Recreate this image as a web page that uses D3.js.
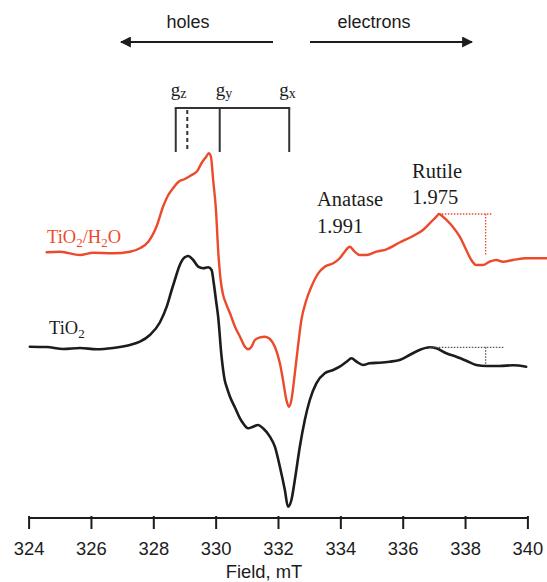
<!DOCTYPE html>
<html>
<head>
<meta charset="utf-8">
<script src="https://cdn.jsdelivr.net/npm/d3@7"></script>
<style>
  html, body { margin: 0; padding: 0; background: #ffffff; }
  svg { display: block; }
</style>
</head>
<body>
<svg id="chart" width="547" height="582"></svg>
<script>
// EPR spectra: field (mT) vs. derivative signal (arbitrary units)
const fieldTicks = [324, 326, 328, 330, 332, 334, 336, 338, 340];

// TiO2/H2O spectrum
const wetField = [324.58, 325.01, 325.65, 326.07, 326.71, 327.25, 327.57, 327.84, 328.11, 328.32,
  328.48, 328.64, 328.80, 329.01, 329.23, 329.41, 329.55, 329.69, 329.78, 329.85,
  329.92, 330.01, 330.08, 330.16, 330.24, 330.33, 330.46, 330.62, 330.78, 330.94,
  331.04, 331.15, 331.26, 331.42, 331.58, 331.74, 331.90, 332.06, 332.16, 332.27,
  332.35, 332.43, 332.54, 332.64, 332.75, 332.91, 333.07, 333.29, 333.50, 333.77,
  333.98, 334.14, 334.30, 334.46, 334.62, 334.84, 335.16, 335.48, 335.90, 336.33,
  336.65, 336.92, 337.08, 337.16, 337.29, 337.56, 337.83, 338.04, 338.20, 338.36,
  338.57, 338.79, 339.00, 339.21, 339.54, 339.96, 340.39, 340.62];
const wetSignal = [265.7, 266.3, 263.0, 265.3, 264.7, 266.3, 269.7, 276.3, 292.0, 312.0,
  323.0, 330.0, 336.0, 339.0, 343.0, 347.0, 355.0, 361.0, 364.7, 361.0,
  338.0, 308.0, 268.0, 238.0, 223.0, 214.7, 204.7, 191.3, 181.3, 171.3,
  168.7, 171.3, 178.0, 180.7, 181.3, 179.0, 171.3, 154.7, 138.0, 118.0,
  111.3, 118.0, 144.7, 171.3, 198.0, 218.0, 231.3, 244.7, 251.3, 254.7,
  259.7, 266.3, 271.3, 266.3, 263.0, 263.0, 266.3, 268.7, 275.5, 282.0,
  288.0, 296.3, 301.3, 304.0, 301.3, 293.0, 281.3, 268.0, 258.0, 253.0,
  253.0, 256.3, 258.0, 256.3, 258.0, 259.7, 259.7, 259.7];

// TiO2 spectrum
const dryField = [324.04, 324.58, 325.11, 325.65, 326.18, 326.71, 327.25, 327.57, 327.89, 328.21,
  328.43, 328.59, 328.69, 328.85, 329.01, 329.12, 329.28, 329.44, 329.60, 329.76,
  329.87, 329.94, 330.01, 330.08, 330.19, 330.29, 330.35, 330.46, 330.62, 330.78,
  330.88, 331.04, 331.20, 331.36, 331.52, 331.74, 331.90, 332.06, 332.22, 332.32,
  332.43, 332.54, 332.70, 332.86, 333.02, 333.23, 333.50, 333.77, 333.98, 334.20,
  334.36, 334.52, 334.73, 334.94, 335.26, 335.58, 335.90, 336.22, 336.54, 336.87,
  337.08, 337.40, 337.72, 338.04, 338.36, 338.68, 339.11, 339.54, 339.96];
const drySignal = [171.3, 171.0, 169.0, 170.0, 168.7, 170.0, 173.0, 176.3, 183.0, 195.5,
  211.3, 228.0, 238.0, 253.0, 260.7, 262.0, 258.0, 251.3, 249.7, 250.7,
  248.0, 234.7, 218.0, 201.3, 161.3, 138.0, 131.3, 121.3, 110.5, 99.7,
  94.7, 89.7, 91.3, 93.0, 89.7, 81.3, 71.3, 51.3, 28.0, 11.3,
  18.0, 38.0, 71.3, 98.0, 118.0, 134.7, 144.7, 148.0, 151.3, 156.3,
  159.7, 156.3, 153.0, 154.7, 155.3, 156.3, 158.0, 163.0, 168.0, 170.7,
  169.7, 164.7, 161.3, 157.3, 153.0, 152.0, 152.0, 152.7, 151.3];

// g-tensor field positions (gz, gy, gx) and the second gz component (dashed)
const gNames = ["z", "y", "x"];
const gFields = [328.72, 330.13, 332.36];
const gzDashedField = 329.09;

// Rutile peak-height markers: [peak field, end field, marker field, top signal, bottom signal]
const wetMarker = [337.16, 338.89, 338.66, 304.0, 263.0];
const dryMarker = [336.87, 339.27, 338.66, 170.7, 153.0];

const RED = "#ec4a2c";
const INK = "#1c1c1c";
const sans = "'Liberation Sans', Arial, sans-serif";
const serif = "'Liberation Serif', 'Times New Roman', serif";

const svg = d3.select("#chart");
svg.append("rect").attr("width", 547).attr("height", 582).attr("fill", "#ffffff");

const x = d3.scaleLinear().domain([324, 340]).range([28.6, 527.4]);
const y = d3.scaleLinear().domain([0, 500]).range([518, 18]);

// Axis
const axis = d3.axisBottom(x)
  .tickValues(fieldTicks)
  .tickFormat(d3.format("d"))
  .tickSize(11)
  .tickSizeOuter(0)
  .tickPadding(13);

const gAxis = svg.append("g")
  .attr("transform", `translate(0,${y(0)})`)
  .call(axis);
gAxis.select(".domain").attr("stroke", INK).attr("stroke-width", 2)
  .attr("d", `M${x(324)},0H${x(340)}`);
gAxis.selectAll(".tick line").attr("stroke", INK).attr("stroke-width", 2).attr("y1", -2);
gAxis.selectAll(".tick text")
  .attr("fill", INK)
  .style("font-family", sans)
  .style("font-size", "18.4px");

svg.append("text")
  .attr("x", 264).attr("y", 578)
  .attr("text-anchor", "middle")
  .attr("fill", INK)
  .style("font-family", sans)
  .style("font-size", "18.4px")
  .text("Field, mT");

// Spectra
const line = d3.line()
  .x(d => x(d[0]))
  .y(d => y(d[1]))
  .curve(d3.curveMonotoneX);

const wet = d3.zip(wetField, wetSignal);
const dry = d3.zip(dryField, drySignal);

svg.append("path").datum(dry)
  .attr("d", line).attr("fill", "none")
  .attr("stroke", INK).attr("stroke-width", 2.6)
  .attr("stroke-linejoin", "round").attr("stroke-linecap", "round");

svg.append("path").datum(wet)
  .attr("d", line).attr("fill", "none")
  .attr("stroke", RED).attr("stroke-width", 2.4)
  .attr("stroke-linejoin", "round").attr("stroke-linecap", "round");

// Peak height markers (dotted)
function marker(m, color) {
  const [peak, end, at, top, bottom] = m;
  svg.append("line")
    .attr("x1", x(peak)).attr("x2", x(end))
    .attr("y1", y(top)).attr("y2", y(top))
    .attr("stroke", color).attr("stroke-width", 1.3).attr("stroke-dasharray", "1.5,1.5");
  svg.append("line")
    .attr("x1", x(at)).attr("x2", x(at))
    .attr("y1", y(top)).attr("y2", y(bottom))
    .attr("stroke", color).attr("stroke-width", 1.3).attr("stroke-dasharray", "1.5,1.5");
}
marker(wetMarker, RED);
marker(dryMarker, "#555555");

// g-tensor bracket
const bracketTop = 108, bracketBottom = 152;
const gb = svg.append("g").attr("stroke", "#333333").attr("stroke-width", 2);
gb.append("line")
  .attr("x1", x(gFields[0]) - 1).attr("x2", x(gFields[2]) + 1)
  .attr("y1", bracketTop).attr("y2", bracketTop);
gFields.forEach(f => {
  gb.append("line")
    .attr("x1", x(f)).attr("x2", x(f))
    .attr("y1", bracketTop).attr("y2", bracketBottom);
});
gb.append("line")
  .attr("x1", x(gzDashedField)).attr("x2", x(gzDashedField))
  .attr("y1", bracketTop + 2).attr("y2", bracketBottom)
  .attr("stroke-dasharray", "4,3");

gFields.forEach((f, i) => {
  const t = svg.append("text")
    .attr("x", x(f) + [-5, -4, -10][i]).attr("y", 96)
    .attr("fill", INK)
    .style("font-family", serif).style("font-size", "19px");
  t.append("tspan").text("g");
  t.append("tspan").attr("dy", 2).style("font-size", "14px").text(gNames[i]);
});

// Sample labels with subscripts
function formula(xp, yp, parts, color) {
  const t = svg.append("text").attr("x", xp).attr("y", yp).attr("fill", color)
    .style("font-family", serif).style("font-size", "18.5px");
  let shifted = false;
  parts.forEach(p => {
    const s = t.append("tspan").text(p.t);
    if (p.sub) {
      s.attr("dy", 4).style("font-size", "13px");
      shifted = true;
    } else if (shifted) {
      s.attr("dy", -4);
      shifted = false;
    }
  });
}
formula(47, 243, [{t: "TiO"}, {t: "2", sub: true}, {t: "/H"}, {t: "2", sub: true}, {t: "O"}], RED);
formula(49, 334, [{t: "TiO"}, {t: "2", sub: true}], INK);

// Peak labels
function peakLabel(xp, y1, y2, a, b) {
  const t = svg.append("text").attr("fill", INK)
    .style("font-family", serif).style("font-size", "20.5px");
  t.append("tspan").attr("x", xp).attr("y", y1).text(a);
  t.append("tspan").attr("x", xp).attr("y", y2).text(b);
}
peakLabel(317, 206, 233, "Anatase", "1.991");
peakLabel(412, 178, 204, "Rutile", "1.975");

// Direction arrows
svg.append("defs").append("marker")
  .attr("id", "head").attr("viewBox", "0 0 10 10")
  .attr("refX", 9).attr("refY", 5)
  .attr("markerWidth", 5.5).attr("markerHeight", 5.5)
  .attr("orient", "auto-start-reverse")
  .append("path").attr("d", "M0,0L10,5L0,10Z").attr("fill", INK);

svg.append("line").attr("x1", 273).attr("x2", 121).attr("y1", 42).attr("y2", 42)
  .attr("stroke", INK).attr("stroke-width", 2).attr("marker-end", "url(#head)");
svg.append("line").attr("x1", 310).attr("x2", 472).attr("y1", 42).attr("y2", 42)
  .attr("stroke", INK).attr("stroke-width", 2).attr("marker-end", "url(#head)");

svg.append("text").attr("x", 188).attr("y", 28).attr("text-anchor", "middle")
  .attr("fill", INK).style("font-family", sans).style("font-size", "18px").text("holes");
svg.append("text").attr("x", 374).attr("y", 28).attr("text-anchor", "middle")
  .attr("fill", INK).style("font-family", sans).style("font-size", "18px").text("electrons");
</script>
</body>
</html>
